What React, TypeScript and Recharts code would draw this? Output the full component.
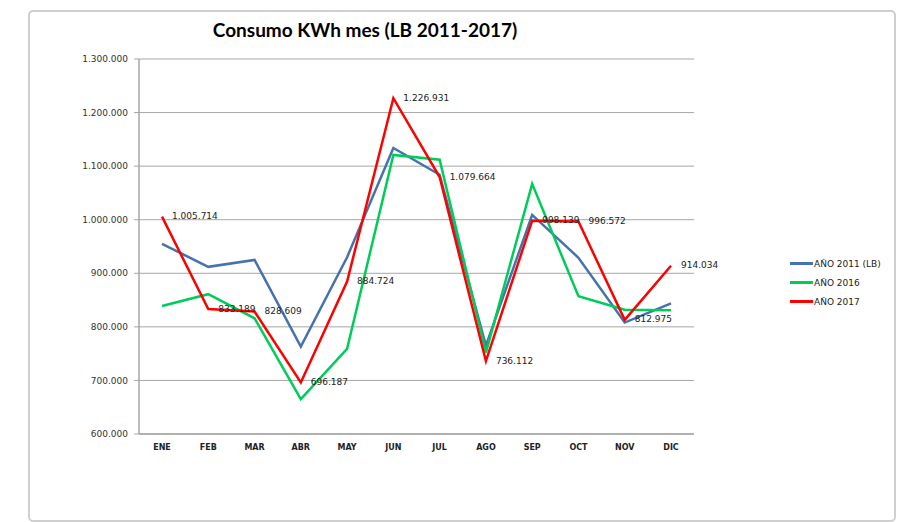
import { LineChart, Line, XAxis, YAxis, CartesianGrid, Legend, LabelList } from "recharts";

const months = ["ENE", "FEB", "MAR", "ABR", "MAY", "JUN", "JUL", "AGO", "SEP", "OCT", "NOV", "DIC"];
const y2011 = [955000, 912000, 925000, 763000, 930000, 1134000, 1084000, 765000, 1009000, 929000, 808000, 844000];
const y2016 = [839000, 861000, 816000, 665000, 759000, 1121000, 1112000, 752000, 1067000, 857000, 832000, 831000];
const y2017 = [1005714, 833189, 828609, 696187, 884724, 1226931, 1079664, 736112, 998139, 996572, 812975, 914034];
const yTicks = [600000, 700000, 800000, 900000, 1000000, 1100000, 1200000, 1300000];
const bandTicks = [0, 1, 2, 3, 4, 5, 6, 7, 8, 9, 10, 11, 12];

const data = months.map((m, i) => ({ m, a2011: y2011[i], a2016: y2016[i], a2017: y2017[i] }));

const fmt = (v: number) => String(Math.round(v)).replace(/\B(?=(\d{3})+(?!\d))/g, ".");

const series = [
  { key: "a2011", name: "AÑO 2011 (LB)", color: "#4672AE" },
  { key: "a2016", name: "AÑO 2016", color: "#00CC5A" },
  { key: "a2017", name: "AÑO 2017", color: "#FF0000" },
];

const FONT = "'DejaVu Sans', Verdana, sans-serif";

function RedLabel(props: any) {
  const { x, y, value } = props;
  return (
    <text x={x + 10} y={y} dominantBaseline="middle" fontSize={9} fontFamily={FONT} fill="#222">
      {fmt(value)}
    </text>
  );
}

function LegendBox() {
  return (
    <div style={{ fontFamily: FONT, fontSize: 9, color: "#222" }}>
      {series.map((s) => (
        <div key={s.key} style={{ display: "flex", alignItems: "center", height: 19 }}>
          <span style={{ display: "inline-block", width: 23, height: 3, background: s.color, marginRight: 1 }} />
          <span>{s.name}</span>
        </div>
      ))}
    </div>
  );
}

export default function App() {
  return (
    <div style={{ position: "absolute", left: 0, top: 0, width: 902, height: 522, background: "#fff" }}>
      <div
        style={{
          position: "absolute",
          left: 28,
          top: 10,
          width: 864,
          height: 508,
          border: "2px solid #cfcfcf",
          borderRadius: 5,
        }}
      />
      <div
        style={{
          position: "absolute",
          left: 0,
          width: 730,
          top: 18,
          textAlign: "center",
          fontFamily: "Lato, 'Open Sans', sans-serif",
          fontWeight: 700,
          fontSize: 19,
          color: "#000",
        }}
      >
        Consumo KWh mes (LB 2011-2017)
      </div>
      <div style={{ position: "absolute", left: 0, top: 0 }}>
        <LineChart width={902} height={522} data={data} margin={{ top: 59, right: 208, bottom: 58, left: 79 }}>
          <CartesianGrid horizontal vertical={false} stroke="#a6a6a6" strokeWidth={1} />
          <XAxis
            xAxisId="bands"
            type="number"
            domain={[0, 12]}
            ticks={bandTicks}
            tick={false}
            axisLine={false}
            tickLine={{ stroke: "#a6a6a6" }}
            tickSize={5}
            height={0}
          />
          <XAxis
            dataKey="m"
            padding={{ left: 23, right: 23 }}
            axisLine={{ stroke: "#a6a6a6", strokeWidth: 1.5 }}
            tickLine={false}
            tickSize={5}
            tickMargin={5}
            height={30}
            interval={0}
            tick={{ fontSize: 8, fontWeight: 700, fontFamily: FONT, fill: "#222" }}
          />
          <YAxis
            domain={[600000, 1300000]}
            ticks={yTicks}
            width={60}
            tickFormatter={fmt}
            axisLine={{ stroke: "#a6a6a6", strokeWidth: 1.5 }}
            tickLine={{ stroke: "#a6a6a6" }}
            tickSize={5}
            tickMargin={6}
            tick={{ fontSize: 9, fontFamily: FONT, fill: "#333" }}
          />
          <Legend
            layout="vertical"
            align="center"
            verticalAlign="middle"
            content={() => <LegendBox />}
            wrapperStyle={{ position: "absolute", left: 790, top: 254, width: 100 }}
          />
          {series.map((s) => (
            <Line
              key={s.key}
              dataKey={s.key}
              name={s.name}
              stroke={s.color}
              strokeWidth={2.5}
              dot={false}
              activeDot={false}
              isAnimationActive={false}
            >
              {s.key === "a2017" && <LabelList dataKey="a2017" content={RedLabel} />}
            </Line>
          ))}
        </LineChart>
      </div>
    </div>
  );
}
